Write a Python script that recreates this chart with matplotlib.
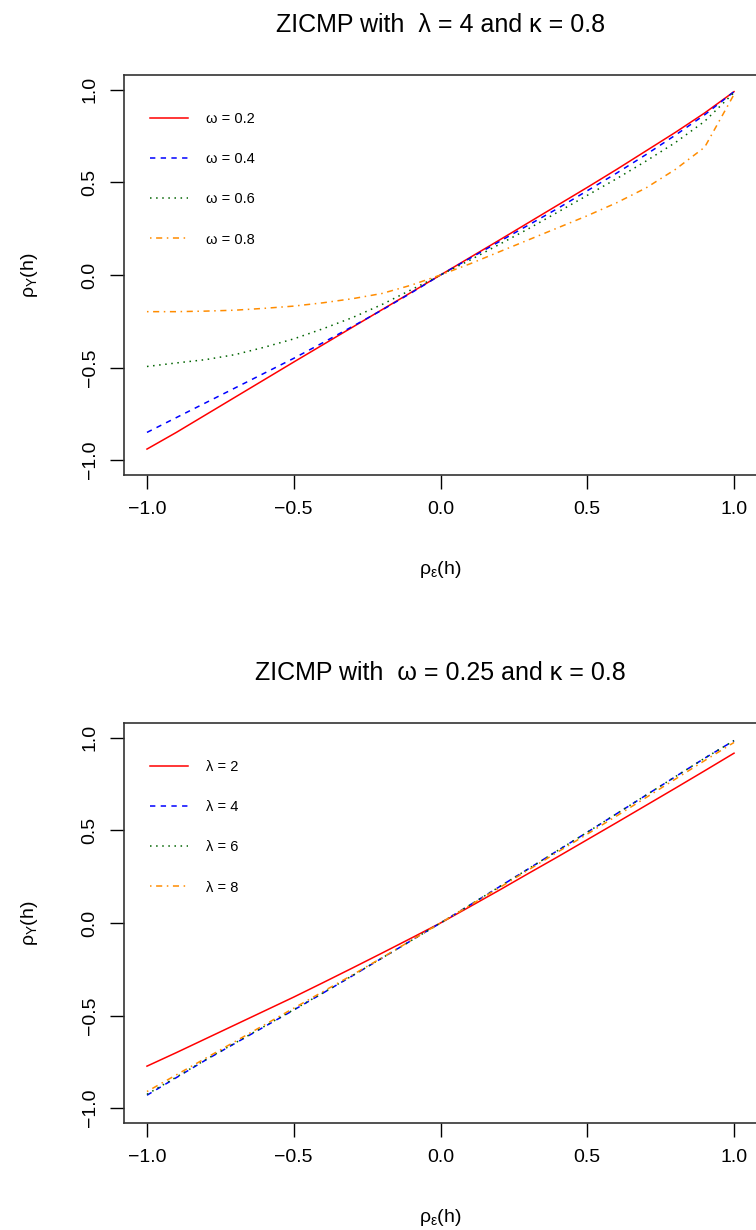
import numpy as np
import matplotlib
matplotlib.use("Agg")
import matplotlib.pyplot as plt

plt.rcParams['font.family'] = ['Liberation Sans', 'DejaVu Sans']
plt.rcParams['mathtext.fontset'] = 'custom'
plt.rcParams['mathtext.rm'] = 'Liberation Sans'
plt.rcParams['mathtext.it'] = 'Liberation Sans'

# correlation of the latent process
rho_eps = [-1.0, -0.9, -0.8, -0.7, -0.6, -0.5, -0.4, -0.3, -0.2, -0.1, 0.0,
           0.1, 0.2, 0.3, 0.4, 0.5, 0.6, 0.7, 0.8, 0.9, 1.0]

# top panel: lambda = 4, kappa = 0.8, varying omega
omega_labels = ['ω = 0.2', 'ω = 0.4', 'ω = 0.6', 'ω = 0.8']
omega_02 = [-0.94, -0.85, -0.755, -0.66, -0.565, -0.47, -0.376, -0.282, -0.188, -0.094, 0.0,
            0.094, 0.188, 0.283, 0.378, 0.473, 0.57, 0.67, 0.77, 0.875, 0.99]
omega_04 = [-0.85, -0.77, -0.69, -0.61, -0.53, -0.45, -0.365, -0.278, -0.19, -0.097, 0.0,
            0.09, 0.18, 0.27, 0.36, 0.455, 0.55, 0.65, 0.755, 0.865, 0.99]
omega_06 = [-0.494, -0.475, -0.457, -0.43, -0.39, -0.345, -0.29, -0.23, -0.16, -0.08, 0.0,
            0.08, 0.165, 0.25, 0.34, 0.43, 0.52, 0.615, 0.715, 0.83, 0.985]
omega_08 = [-0.198, -0.198, -0.195, -0.19, -0.18, -0.168, -0.15, -0.128, -0.1, -0.055, 0.0,
            0.06, 0.125, 0.19, 0.255, 0.32, 0.39, 0.47, 0.57, 0.69, 0.975]

# bottom panel: omega = 0.25, kappa = 0.8, varying lambda
lambda_labels = ['λ = 2', 'λ = 4', 'λ = 6', 'λ = 8']
lambda_2 = [-0.773, -0.7, -0.625, -0.55, -0.475, -0.40, -0.322, -0.243, -0.163, -0.082, 0.0,
            0.088, 0.177, 0.268, 0.358, 0.45, 0.542, 0.635, 0.728, 0.822, 0.917]
lambda_4 = [-0.93, -0.835, -0.74, -0.65, -0.56, -0.47, -0.378, -0.285, -0.19, -0.095, 0.0,
            0.097, 0.195, 0.293, 0.392, 0.49, 0.59, 0.69, 0.79, 0.89, 0.985]
lambda_6 = [-0.925, -0.832, -0.738, -0.648, -0.558, -0.468, -0.377, -0.284, -0.19, -0.095, 0.0,
            0.097, 0.195, 0.293, 0.392, 0.49, 0.59, 0.69, 0.79, 0.89, 0.985]
lambda_8 = [-0.91, -0.82, -0.73, -0.64, -0.55, -0.46, -0.37, -0.28, -0.188, -0.094, 0.0,
            0.095, 0.19, 0.287, 0.384, 0.48, 0.578, 0.677, 0.777, 0.877, 0.975]

colors = ['red', 'blue', 'darkgreen', 'darkorange']
styles = ['-', (0, (3.5, 3.5)), (0, (1, 3)), (0, (1, 3, 4, 3))]

W, H = 756, 1230
fig = plt.figure(figsize=(W / 100, H / 100), dpi=100)


def px(x, y):
    # pixel position (from top-left) -> figure fraction
    return x / W, 1 - y / H


def panel(top, series, labels, title):
    left, right = 123.5, 757.5
    ax = fig.add_axes([left / W, 1 - (top + 400) / H, (right - left) / W, 400 / H])
    for ys, lab, c, ls in zip(series, labels, colors, styles):
        ax.plot(rho_eps, ys, color=c, linestyle=ls, linewidth=1.1, label=lab)
    ax.set_xlim(-1.08, 1.08)
    ax.set_ylim(-1.08, 1.08)
    ax.set_xticks([-1.0, -0.5, 0.0, 0.5, 1.0])
    ax.set_yticks([-1.0, -0.5, 0.0, 0.5, 1.0])
    ax.set_xticklabels(['\u22121.0', '\u22120.5', '0.0', '0.5', '1.0'])
    ax.set_yticklabels(['\u22121.0', '\u22120.5', '0.0', '0.5', '1.0'], rotation=90, va='center')
    ax.tick_params(direction='out', length=10, width=1.0, labelsize=14, pad=9)
    ax.tick_params(axis='y', pad=8)
    for s in ax.spines.values():
        s.set_linewidth(1.2)
        s.set_color('#333333')
    ax.legend(loc='upper left', bbox_to_anchor=(0.042, 0.908), frameon=False,
              fontsize=10.5, handlelength=2.6, handletextpad=1.25,
              labelspacing=1.8, borderpad=0, borderaxespad=0)
    cx = (left + right) / 2
    fig.text(*px(cx, top - 50), title, ha='center', va='center', fontsize=18)
    fig.text(*px(cx, top + 400 + 95), r'$\rho_{\varepsilon}(h)$', ha='center', va='center', fontsize=14)
    fig.text(*px(30, top + 200), r'$\rho_{Y}(h)$', ha='center', va='center',
             rotation=90, fontsize=14)
    return ax


panel(75, [omega_02, omega_04, omega_06, omega_08], omega_labels,
      'ZICMP with  λ = 4 and κ = 0.8')
panel(723, [lambda_2, lambda_4, lambda_6, lambda_8], lambda_labels,
      'ZICMP with  ω = 0.25 and κ = 0.8')

fig.savefig('out.png', dpi=100)
